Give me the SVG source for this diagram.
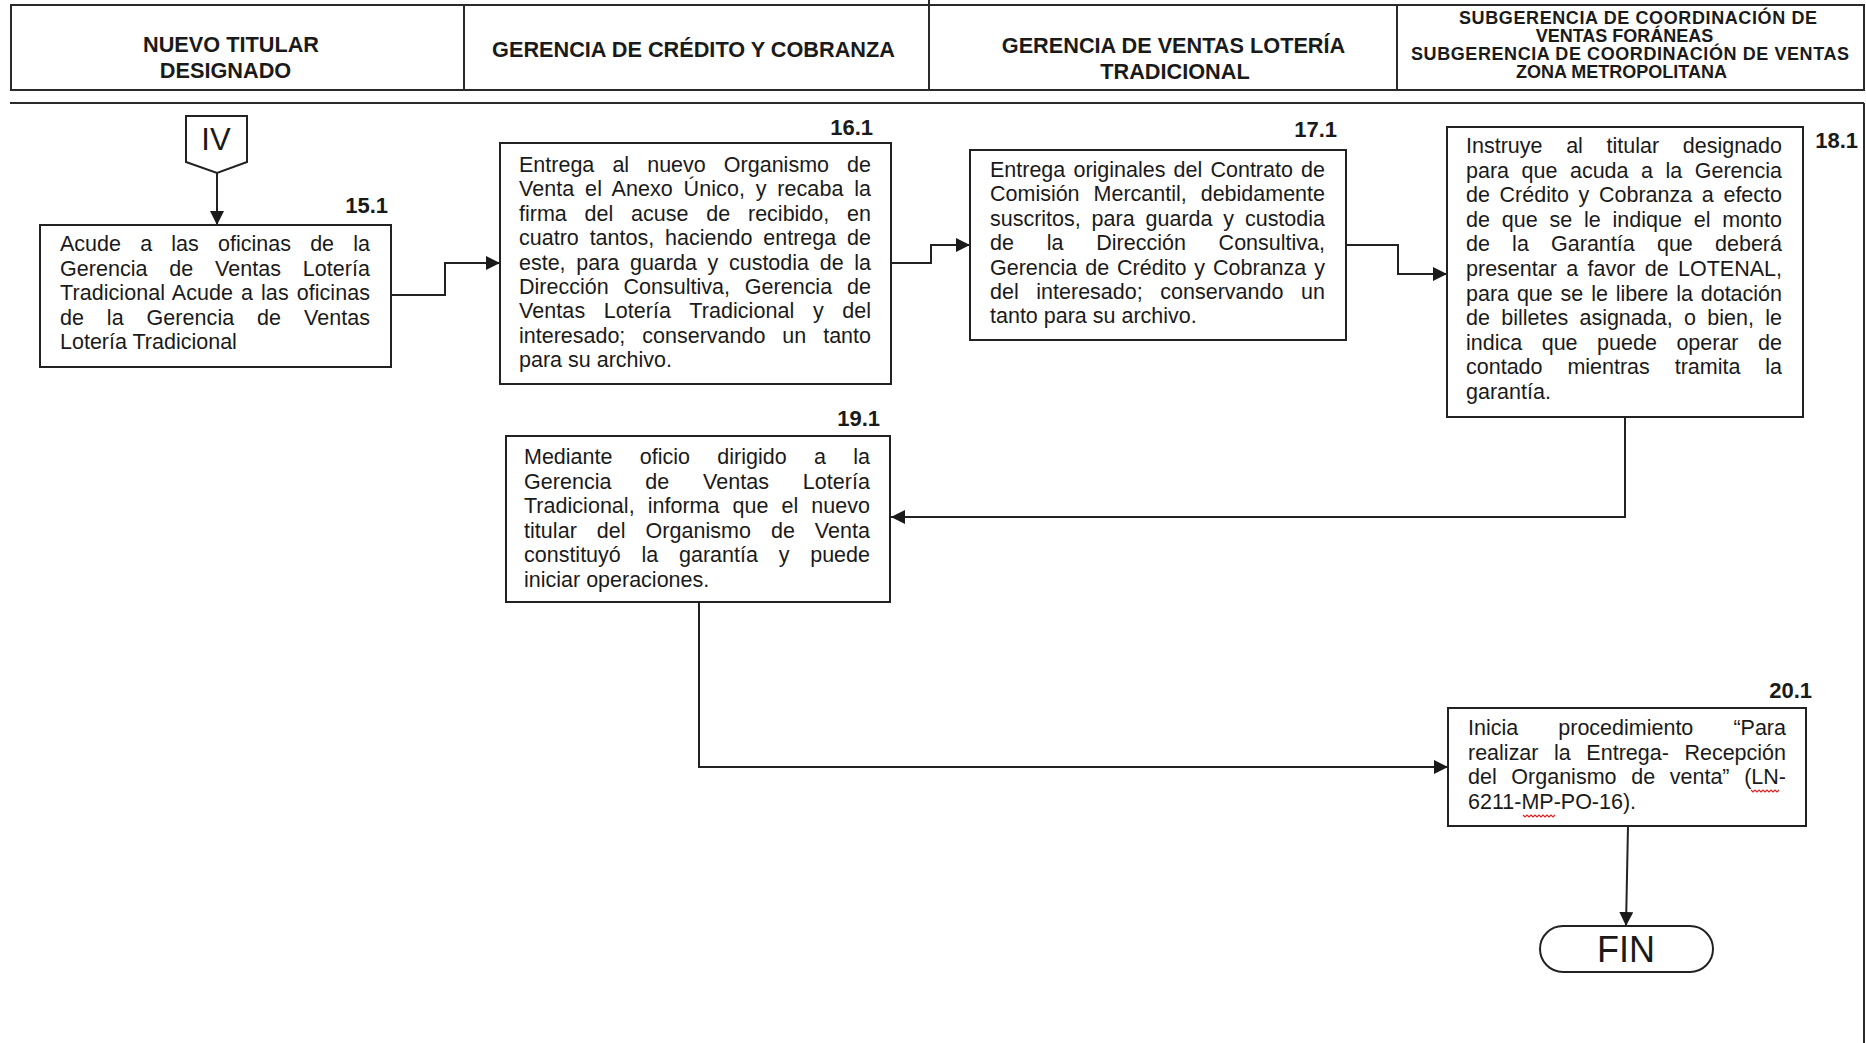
<svg xmlns="http://www.w3.org/2000/svg" width="1866" height="1043" viewBox="0 0 1866 1043">
<style>
.frame{fill:none;stroke:#2a2a2a;stroke-width:2}
.box{fill:#fff;stroke:#222;stroke-width:2}
.conn{fill:none;stroke:#222;stroke-width:2}
.t{font-family:"Liberation Sans",Arial,sans-serif;font-size:21.5px;fill:#1a1a1a}
.lbl{font-family:"Liberation Sans",Arial,sans-serif;font-size:22px;font-weight:bold;fill:#1a1a1a;text-anchor:end}
.hd{font-family:"Liberation Sans",Arial,sans-serif;font-size:21.7px;font-weight:bold;fill:#1a1a1a;text-anchor:middle}
.hs{font-family:"Liberation Sans",Arial,sans-serif;font-size:18px;font-weight:bold;fill:#1a1a1a;text-anchor:middle}
.sq{fill:none;stroke:#e02020;stroke-width:1.2}
</style>
<defs>
<marker id="ah" viewBox="0 0 14 14" refX="14" refY="7" markerWidth="14" markerHeight="14" markerUnits="userSpaceOnUse" orient="auto"><path d="M0,0 L14,7 L0,14 z" fill="#1a1a1a"/></marker>
</defs>
<rect width="1866" height="1043" fill="#fff"/>

<g id="header">
<rect class="frame" x="11" y="5" width="1853" height="85"/>
<line class="frame" x1="464" y1="5" x2="464" y2="90"/>
<line class="frame" x1="929" y1="0" x2="929" y2="90"/>
<line class="frame" x1="1397" y1="5" x2="1397" y2="90"/>
<line class="frame" x1="10" y1="103" x2="1864" y2="103"/>
<line class="frame" x1="1864" y1="103" x2="1864" y2="1043"/>
<text class="hd" x="231" y="52">NUEVO TITULAR</text>
<text class="hd" x="225.5" y="78">DESIGNADO</text>
<text class="hd" x="693.5" y="57">GERENCIA DE CRÉDITO Y COBRANZA</text>
<text class="hd" x="1173.5" y="53">GERENCIA DE VENTAS LOTERÍA</text>
<text class="hd" x="1175" y="79">TRADICIONAL</text>
<text class="hs" x="1638" y="24" textLength="358" lengthAdjust="spacing">SUBGERENCIA DE COORDINACIÓN DE</text>
<text class="hs" x="1624.5" y="42">VENTAS FORÁNEAS</text>
<text class="hs" x="1630" y="60" textLength="438" lengthAdjust="spacing">SUBGERENCIA DE COORDINACIÓN DE VENTAS</text>
<text class="hs" x="1621.5" y="78">ZONA METROPOLITANA</text>
</g>

<g id="connectors">
<path class="conn" d="M217,173 V225" marker-end="url(#ah)"/>
<path class="conn" d="M391,295 H445 V263 H500" marker-end="url(#ah)"/>
<path class="conn" d="M891,263 H931 V245 H970" marker-end="url(#ah)"/>
<path class="conn" d="M1346,245 H1398 V274 H1447" marker-end="url(#ah)"/>
<path class="conn" d="M1625,417 V517 H891" marker-end="url(#ah)"/>
<path class="conn" d="M699,602 V767 H1448" marker-end="url(#ah)"/>
<path class="conn" d="M1628,826 L1626,926" marker-end="url(#ah)"/>
</g>

<g id="n-IV">
<polygon class="box" points="186,116 247,116 247,162 217,173 186,162"/>
<text class="t" x="216" y="150" style="font-size:31px" text-anchor="middle">IV</text>
</g>

<g id="n-15-1">
<rect class="box" x="40" y="225" width="351" height="142"/>
<text class="lbl" x="388" y="213">15.1</text>
<text class="t" x="60" y="251" textLength="310" lengthAdjust="spacing" style="word-spacing:13.2px">Acude a las oficinas de la</text>
<text class="t" x="60" y="275.5" textLength="310" lengthAdjust="spacing" style="word-spacing:15.7px">Gerencia de Ventas Lotería</text>
<text class="t" x="60" y="300" textLength="310" lengthAdjust="spacing" style="word-spacing:1.9px">Tradicional Acude a las oficinas</text>
<text class="t" x="60" y="324.5" textLength="310" lengthAdjust="spacing" style="word-spacing:16.8px">de la Gerencia de Ventas</text>
<text class="t" x="60" y="349">Lotería Tradicional</text>
</g>

<g id="n-16-1">
<rect class="box" x="500" y="143" width="391" height="241"/>
<text class="lbl" x="873" y="135">16.1</text>
<text class="t" x="519" y="172" textLength="352" lengthAdjust="spacing" style="word-spacing:12.1px">Entrega al nuevo Organismo de</text>
<text class="t" x="519" y="196.4" textLength="352" lengthAdjust="spacing" style="word-spacing:4.7px">Venta el Anexo Único, y recaba la</text>
<text class="t" x="519" y="220.8" textLength="352" lengthAdjust="spacing" style="word-spacing:11.8px">firma del acuse de recibido, en</text>
<text class="t" x="519" y="245.2" textLength="352" lengthAdjust="spacing" style="word-spacing:4.9px">cuatro tantos, haciendo entrega de</text>
<text class="t" x="519" y="269.6" textLength="352" lengthAdjust="spacing" style="word-spacing:4.7px">este, para guarda y custodia de la</text>
<text class="t" x="519" y="294" textLength="352" lengthAdjust="spacing" style="word-spacing:9px">Dirección Consultiva, Gerencia de</text>
<text class="t" x="519" y="318.4" textLength="352" lengthAdjust="spacing" style="word-spacing:12.4px">Ventas Lotería Tradicional y del</text>
<text class="t" x="519" y="342.8" textLength="352" lengthAdjust="spacing" style="word-spacing:11px">interesado; conservando un tanto</text>
<text class="t" x="519" y="367.2">para su archivo.</text>
</g>

<g id="n-17-1">
<rect class="box" x="970" y="150" width="376" height="190"/>
<text class="lbl" x="1337" y="137">17.1</text>
<text class="t" x="990" y="177" textLength="335" lengthAdjust="spacing" style="word-spacing:2.2px">Entrega originales del Contrato de</text>
<text class="t" x="990" y="201.4" textLength="335" lengthAdjust="spacing" style="word-spacing:8px">Comisión Mercantil, debidamente</text>
<text class="t" x="990" y="225.8" textLength="335" lengthAdjust="spacing" style="word-spacing:4.9px">suscritos, para guarda y custodia</text>
<text class="t" x="990" y="250.2" textLength="335" lengthAdjust="spacing" style="word-spacing:26.8px">de la Dirección Consultiva,</text>
<text class="t" x="990" y="274.6" textLength="335" lengthAdjust="spacing" style="word-spacing:2px">Gerencia de Crédito y Cobranza y</text>
<text class="t" x="990" y="299" textLength="335" lengthAdjust="spacing" style="word-spacing:11.7px">del interesado; conservando un</text>
<text class="t" x="990" y="323.4">tanto para su archivo.</text>
</g>

<g id="n-18-1">
<rect class="box" x="1447" y="127" width="356" height="290"/>
<text class="lbl" x="1858" y="148">18.1</text>
<text class="t" x="1466" y="153" textLength="316" lengthAdjust="spacing" style="word-spacing:17.7px">Instruye al titular designado</text>
<text class="t" x="1466" y="177.6" textLength="316" lengthAdjust="spacing" style="word-spacing:6.5px">para que acuda a la Gerencia</text>
<text class="t" x="1466" y="202.2" textLength="316" lengthAdjust="spacing" style="word-spacing:3.7px">de Crédito y Cobranza a efecto</text>
<text class="t" x="1466" y="226.8" textLength="316" lengthAdjust="spacing" style="word-spacing:5.9px">de que se le indique el monto</text>
<text class="t" x="1466" y="251.4" textLength="316" lengthAdjust="spacing" style="word-spacing:16.2px">de la Garantía que deberá</text>
<text class="t" x="1466" y="276" textLength="316" lengthAdjust="spacing" style="word-spacing:3.4px">presentar a favor de LOTENAL,</text>
<text class="t" x="1466" y="300.6" textLength="316" lengthAdjust="spacing" style="word-spacing:1.9px">para que se le libere la dotación</text>
<text class="t" x="1466" y="325.2" textLength="316" lengthAdjust="spacing" style="word-spacing:5.4px">de billetes asignada, o bien, le</text>
<text class="t" x="1466" y="349.8" textLength="316" lengthAdjust="spacing" style="word-spacing:13.6px">indica que puede operar de</text>
<text class="t" x="1466" y="374.4" textLength="316" lengthAdjust="spacing" style="word-spacing:18.9px">contado mientras tramita la</text>
<text class="t" x="1466" y="399">garantía.</text>
</g>

<g id="n-19-1">
<rect class="box" x="506" y="436" width="384" height="166"/>
<text class="lbl" x="880" y="426">19.1</text>
<text class="t" x="524" y="464" textLength="346" lengthAdjust="spacing" style="word-spacing:21.4px">Mediante oficio dirigido a la</text>
<text class="t" x="524" y="488.6" textLength="346" lengthAdjust="spacing" style="word-spacing:27.7px">Gerencia de Ventas Lotería</text>
<text class="t" x="524" y="513.2" textLength="346" lengthAdjust="spacing" style="word-spacing:7px">Tradicional, informa que el nuevo</text>
<text class="t" x="524" y="537.8" textLength="346" lengthAdjust="spacing" style="word-spacing:13.9px">titular del Organismo de Venta</text>
<text class="t" x="524" y="562.4" textLength="346" lengthAdjust="spacing" style="word-spacing:14.8px">constituyó la garantía y puede</text>
<text class="t" x="524" y="587">iniciar operaciones.</text>
</g>

<g id="n-20-1">
<rect class="box" x="1448" y="708" width="358" height="118"/>
<text class="lbl" x="1812" y="698">20.1</text>
<text class="t" x="1468" y="735" textLength="318" lengthAdjust="spacing" style="word-spacing:34.1px">Inicia procedimiento “Para</text>
<text class="t" x="1468" y="759.7" textLength="318" lengthAdjust="spacing" style="word-spacing:9.6px">realizar la Entrega- Recepción</text>
<text class="t" x="1468" y="784.4" textLength="318" lengthAdjust="spacing" style="word-spacing:8.7px">del Organismo de venta” (LN-</text>
<text class="t" x="1468" y="809.1">6211-MP-PO-16).</text>
<path class="sq" d="M1751,790 l2,2 2,-2 2,2 2,-2 2,2 2,-2 2,2 2,-2 2,2 2,-2 2,2 2,-2 2,2 2,-2"/>
<path class="sq" d="M1523,815 l2,2 2,-2 2,2 2,-2 2,2 2,-2 2,2 2,-2 2,2 2,-2 2,2 2,-2 2,2 2,-2 2,2 2,-2"/>
</g>

<g id="n-FIN">
<rect class="box" x="1540" y="926" width="173" height="46" rx="23" ry="23"/>
<text class="t" x="1626" y="962" style="font-size:36px" text-anchor="middle">FIN</text>
</g>
</svg>
